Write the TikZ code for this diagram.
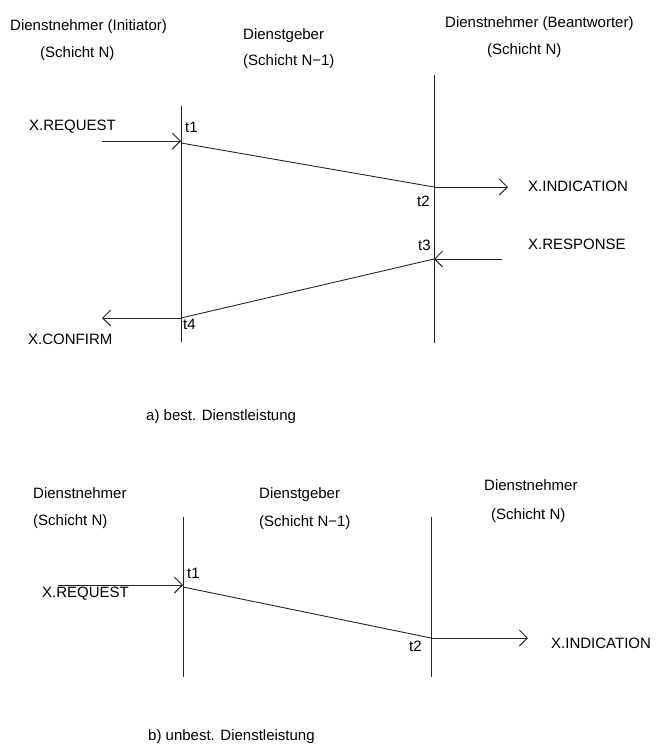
\documentclass[tikz,border=0pt]{standalone}
\usepackage{fontspec}
\setmainfont{Liberation Sans}
\usetikzlibrary{arrows.meta}
\begin{document}
\begin{tikzpicture}[x=1pt,y=-1pt,
  lbl/.style={anchor=base west,inner sep=0pt,font=\fontsize{15}{17}\selectfont},
  lifeline/.style={line width=0.9pt,draw=black!85},
  msg/.style={line width=0.9pt,draw=black!85},
  prim/.style={line width=0.9pt,draw=black!85,-{Straight Barb[length=8pt,width=16pt,line width=0.9pt]}}]
\useasboundingbox (0,0) rectangle (660,745);

% ---------- a) best. Dienstleistung ----------
\node[lbl] (hA1) at (10,30) {Dienstnehmer (Initiator)};
\node[lbl] (hA2) at (40,57) {(Schicht N)};
\node[lbl] (hA3) at (243,39) {Dienstgeber};
\node[lbl] (hA4) at (243,65) {(Schicht N−1)};
\node[lbl] (hA5) at (445,27) {Dienstnehmer (Beantworter)};
\node[lbl] (hA6) at (487,54) {(Schicht N)};

\coordinate (aL1) at (181,106);
\coordinate (aL2) at (181,342);
\coordinate (aR1) at (434,75);
\coordinate (aR2) at (434,343);
\draw[lifeline] (aL1) -- (aL2);
\draw[lifeline] (aR1) -- (aR2);

\coordinate (aReqS) at (102,141);
\coordinate (aT1) at (181,141);
\coordinate (aT1d) at (181,143);
\coordinate (aT2) at (434,187);
\coordinate (aIndE) at (508,187);
\coordinate (aResS) at (502,259);
\coordinate (aT3) at (434,259);
\coordinate (aT4) at (181,318);
\coordinate (aConE) at (102,318);

\draw[prim] (aReqS) -- (aT1);
\draw[msg] (aT1d) -- (aT2);
\draw[prim] (aT2) -- (aIndE);
\draw[prim] (aResS) -- (aT3);
\draw[msg] (aT3) -- (aT4);
\draw[prim] (aT4) -- (aConE);

\node[lbl] (aReq) at (29,130) {X.REQUEST};
\node[lbl] (at1) at (185,132) {t1};
\node[lbl] (aInd) at (528,191) {X.INDICATION};
\node[lbl] (at2) at (417,206) {t2};
\node[lbl] (at3) at (418,250) {t3};
\node[lbl] (aRes) at (528,249) {X.RESPONSE};
\node[lbl] (at4) at (183,329) {t4};
\node[lbl] (aCon) at (28,344) {X.CONFIRM};
\node[lbl] (capA) at (146,420) {a) best. Dienstleistung};

% ---------- b) unbest. Dienstleistung ----------
\node[lbl] (hB1) at (33,498) {Dienstnehmer};
\node[lbl] (hB2) at (33,525) {(Schicht N)};
\node[lbl] (hB3) at (259,498) {Dienstgeber};
\node[lbl] (hB4) at (259,526) {(Schicht N−1)};
\node[lbl] (hB5) at (484,490) {Dienstnehmer};
\node[lbl] (hB6) at (491,519) {(Schicht N)};

\coordinate (bL1) at (183,517);
\coordinate (bL2) at (183,677);
\coordinate (bR1) at (431,517);
\coordinate (bR2) at (431,677);
\draw[lifeline] (bL1) -- (bL2);
\draw[lifeline] (bR1) -- (bR2);

\coordinate (bReqS) at (58,585);
\coordinate (bT1) at (183,585);
\coordinate (bT1d) at (183,587);
\coordinate (bT2) at (431,638);
\coordinate (bIndE) at (528,638);

\draw[prim] (bReqS) -- (bT1);
\draw[msg] (bT1d) -- (bT2);
\draw[prim] (bT2) -- (bIndE);

\node[lbl] (bReq) at (42,597) {X.REQUEST};
\node[lbl] (bt1) at (187,578) {t1};
\node[lbl] (bt2) at (409,651) {t2};
\node[lbl] (bInd) at (551,648) {X.INDICATION};
\node[lbl] (capB) at (148,740) {b) unbest. Dienstleistung};
\end{tikzpicture}
\end{document}
